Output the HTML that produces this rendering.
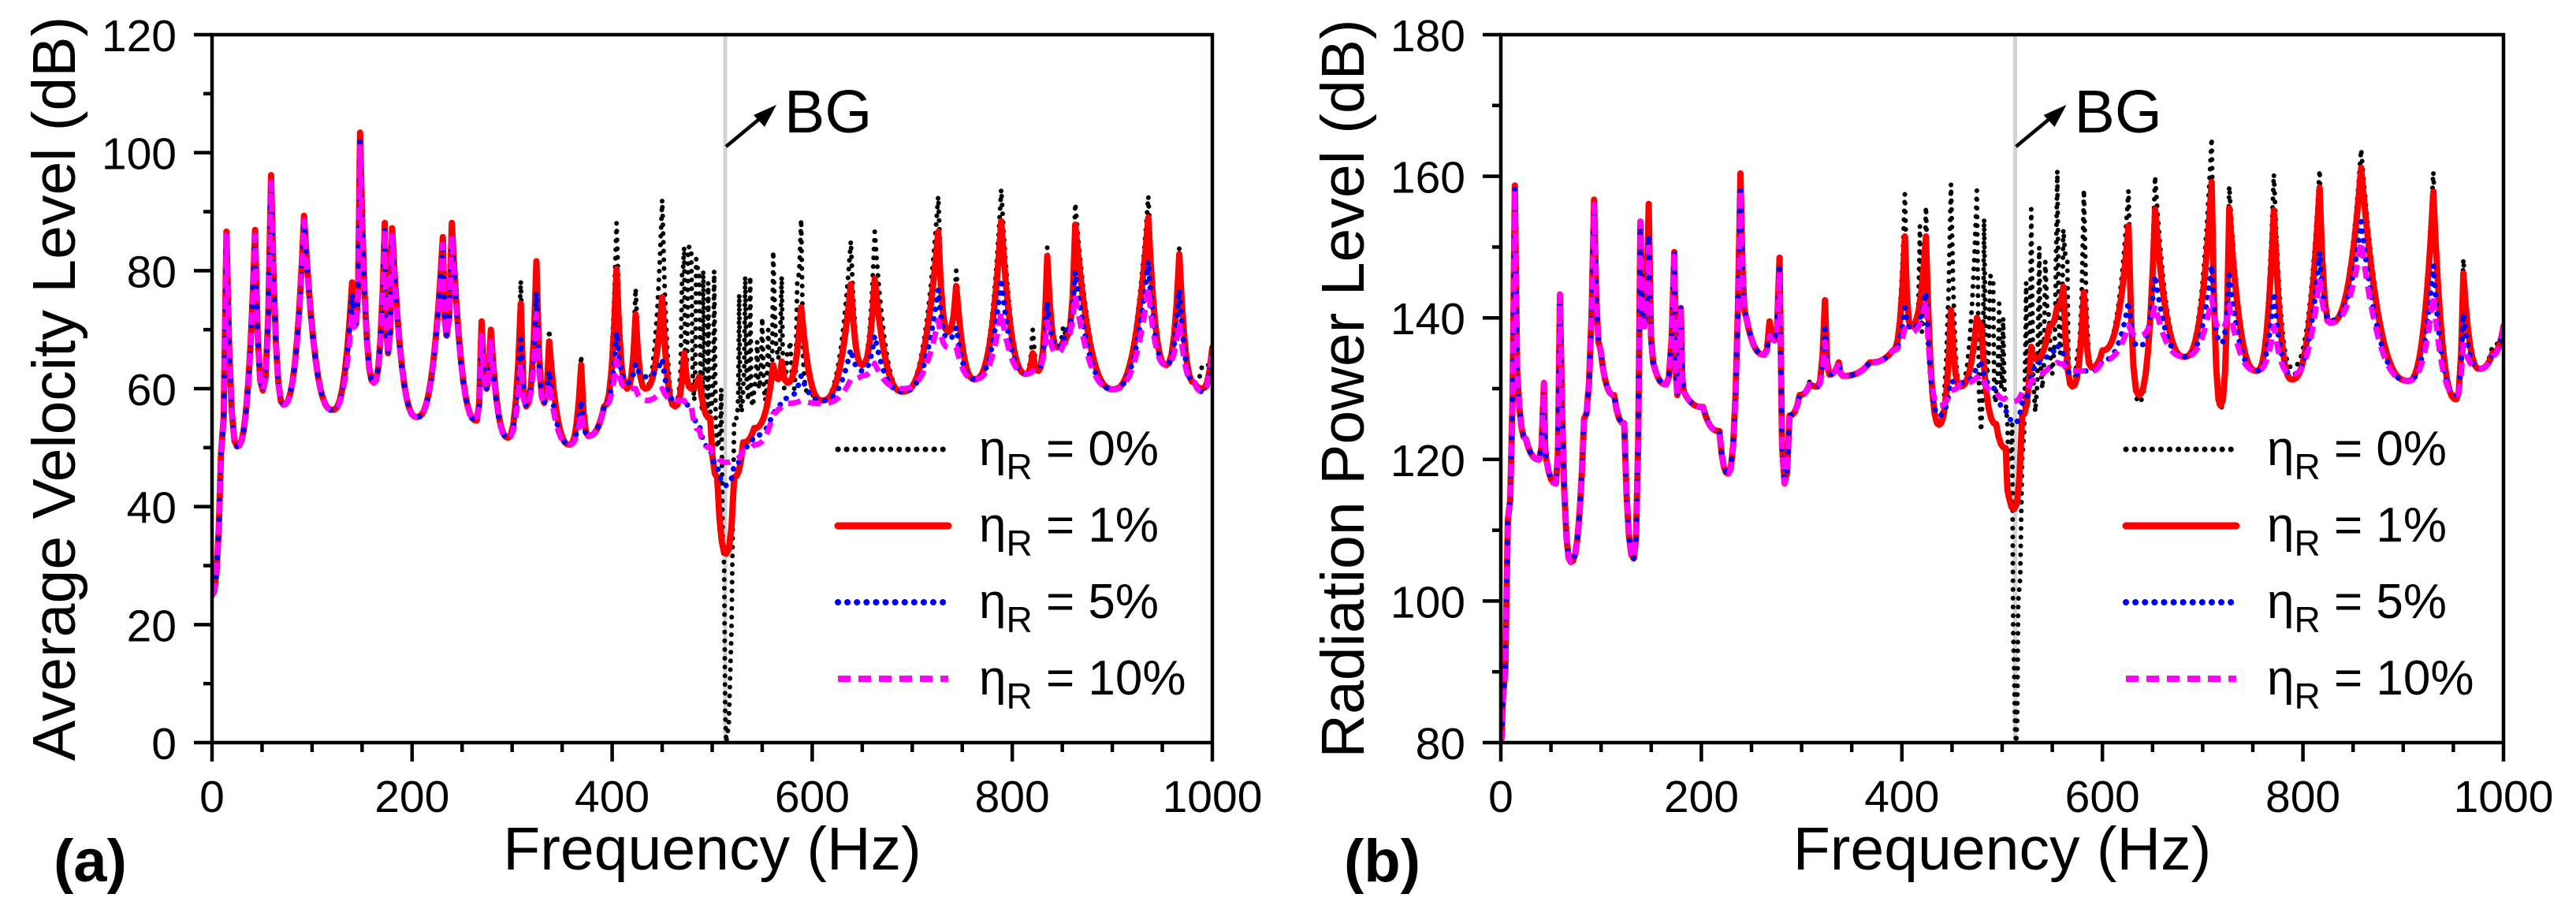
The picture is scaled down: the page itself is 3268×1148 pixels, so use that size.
<!DOCTYPE html>
<html><head><meta charset="utf-8">
<style>
html,body{margin:0;padding:0;background:#fff;}
svg{display:block;font-family:"Liberation Sans",Arial,sans-serif;}
</style></head>
<body>
<svg id="fig" width="3268" height="1148" viewBox="0 0 3268 1148" xmlns="http://www.w3.org/2000/svg">
<rect width="3268" height="1148" fill="#fff"/>
</svg>
<script>
// ---------- Panel (a): Average velocity level ----------
const freqA = [0,9,14.4,25,43,50.8,59,71.3,92,120.5,140,144,148,161.8,172.7,176,180,204.7,230.7,234.5,239.7,264.6,269.5,274.5,278.7,296,308.7,314,324.3,332,337,357.6,369,376,392,404.4,415,423.5,433,450,463,472,479,487,498,505,514,522,531,542,561,566,569.5,575,589,610,638.6,650,662.5,690.5,726,736,744,762.5,789,814,820.5,826,835,845,851,855,863,901,936,954,967,982,990,1000];
const levelA1 = [25,49,86.6,50.2,86.9,59.7,96.2,57.3,89.3,56.4,78,71,103.4,61,88.1,66,87.2,55.2,85.7,69,88.1,54.6,71.4,60,70,51.7,74.4,57,81.6,57.6,68,50.5,64,52,57,80.3,60,72.6,60,75.5,57,66,60,62,55,45,32,45,50.9,53.3,64,61.6,64.6,61,73.8,58,77.7,64,78.6,59.5,86.6,69.6,77.4,61.6,88.4,62.5,66,63,82.5,67,68,69,87.8,59.9,89,64,82.8,61,60,67];
const levelA0 = [25,49,86.6,50.2,86.9,59.7,96.2,57.3,89.3,56.4,78,71,103.4,61,88.1,66,87.2,55.2,85.7,69,88.1,54.6,71.4,60,70,51.7,78.3,57,81.6,57.6,70,50.5,65.6,52,57,88.1,60,77,60,92,57,84,84,80,56,50,0,55,60,60,83.3,65,79,66,88.7,58,85,64,86.6,59.5,92.6,69.6,80,61.6,93.8,62.5,70,63,84,67,70.5,69,91.4,59.9,92.6,64,84,61,64,64];
const levelA5 = [25,49,86,50.2,86,59.7,95,57.3,88.5,56.4,76,71,102,61,87,66,86,55.2,84.5,69,86,54.6,69,60,68,51.7,68.4,57,76.3,57.6,63,50.5,58,52,57,69.6,61,64.2,62,65,58,58,57,54,50,47,43.6,47,50,52,56,57,58,58.5,62.2,58,66.7,63,69,59.5,76.8,68.4,70.4,61.6,78.6,62.5,63,63.5,74.7,67,68.5,70,79.8,59.9,81.6,64,76.8,61,59.5,66];
const levelA10 = [25,49,86,50.2,86,59.7,95,57.3,88.5,56.4,73,70,101,61,87,66,86,55.2,84.5,69,86,54.6,69,60,68,51.7,64.2,57,72.7,57.6,61,50.5,56,52,57,64.8,60,60,58,60,58,58,57,53,50,48.5,47.5,48,49.5,50.5,55.8,56.5,57,57.5,58,57.5,61.6,62.2,64.3,60,71.6,67,67,61.6,73,62.5,63,63.5,71.3,66,67.5,69,75.9,59.9,77,64,71.3,61,59.5,66];
const burstFreqA0 = [467,470,474,476,482,484,490,491,495,496,500,502,507,509,512,525,527,529,533,536,538,540,545,547,550,553,556,559,572,578,582,585,593,600];
const burstLevelA0 = [60,80,62,84,58,82,56,80,55,78,58,80,52,60,30,55,76,56,79,58,79,57,68,60,72,58,70,60,60,68,60,78,60,59];
const yTicksA = [0,20,40,60,80,100,120];

// ---------- Panel (b): Radiation power level ----------
const freqB = [0,2,7,14,18.5,25,38.3,43,45.4,55,59,69.8,83,93,99.5,113,123,132.6,139.2,143,147.5,152,165,173,176,179.5,182.5,201.7,218,226.8,239,245,263,268,273,278,283,288,298,308,316,323.3,327.6,337,341,368,391,403,409,424,437,449,458,474.8,479,494,503.6,507,512,520,529,533,547,555,561,570,581.5,589,600,626,636,652.5,682,709,718,726.5,754,771,789,816.6,827,858,905,930,953,960,976,989,1000];
const levelB1 = [80,86,111.5,158.7,127.4,122.9,120,130.8,120,116.6,143.3,105.5,125.7,156.7,135.4,129.1,125.1,106,153.6,138.8,156.1,133.7,130.6,149.3,129.1,141.4,129.6,127.4,124,118,160.4,139.9,134.8,139.5,136.8,148.5,116.6,126.2,129.1,130.6,130.3,142.5,132,133.7,131.8,133.7,135.4,151.5,138.8,151.5,124.9,141.1,130.3,140,139,125,121.6,114.5,113,126.2,135.9,134.2,138.8,141.6,144.4,130.3,143.6,133,135.4,153,129.1,155.3,134.5,159.2,127.6,155.5,132.5,155.2,131.3,158.4,139.3,161.2,131.1,157.8,128.5,146.3,132.8,135,138.8];
const levelB0 = [80,86,111.5,158.7,127.4,122.9,120,130.8,120,116.6,143.3,105.5,125.7,156.7,135.4,129.1,125.1,106,153.6,138.8,156.1,133.7,130.6,149.3,129.1,141.4,129.6,127.4,124,118,160.4,139.9,134.8,139.5,136.8,148.5,116.6,126.2,129.1,131,130.3,142.5,132,133.7,131.8,133.7,135.4,157.5,138.8,155.7,124.9,158.9,130.3,158,124,130,128,120,90,120,155.4,126.7,140,160.8,152.5,130,158.1,133,135.4,158,128,160,134.5,165.4,127,158.6,132.5,160.3,133,160.9,139.3,163.8,131.1,160.6,128.5,148.3,132.8,136,138.8];
const levelB5 = [80,86,111.5,158.3,127.4,122.9,120,130.8,120,116.6,143.3,105.5,125.7,156,135.4,129.1,125.1,106,153.6,138.8,151.5,133.7,130.6,149.3,129.1,141.4,129.6,127.4,124,118,158.5,139.9,134.8,138,136.8,147,116.6,126.2,129.1,130.6,130.3,138.4,132,133.7,131.8,133.7,135.4,141.4,138.5,143.6,126.2,131.1,130.8,133,133.5,130,127,126,125.1,128,132,133.6,135,136.2,135,132,132.5,132.5,134,142.3,135.9,146,134.5,147.4,136.4,146,132.5,143.6,132,149.3,139.6,153.6,131.1,147.4,129.1,140.6,132.8,134.7,138.8];
const levelB10 = [80,86,111.5,158,127.4,122.9,120,130.8,120,116.6,143.3,105.5,125.7,156,135.4,129.1,125.1,106,153.6,138.8,150,133.7,130.6,149.3,129.1,141.4,129.6,127.4,124,118,158,139.9,134.8,137.5,136.8,146.5,116.6,126.2,129.1,130.6,130.3,136.6,132,133.7,131.8,133.7,135.4,138.5,138,142.5,127.6,129.8,130.6,131.6,132,129.5,128.5,128.3,128.2,129.5,131,132,133,133.7,133.5,132.5,132.5,132.5,134,139,137.4,141.8,134.5,142.9,138.4,141.8,132.5,138.8,132,145.6,139.3,150.8,131.1,143.2,129.1,136.2,132.8,134.7,138.8];
const burstFreqB0 = [415,418,420,482,485,488,491,493,497,499,501,505,510,514,516,524,526,537,540,543,550,558,565,567,575];
const burstLevelB0 = [140,153,138,154,132,146,145.6,128,142,130,140,126,125,80,100,145,128,150,130,148,132,135,148,132,135];
const yTicksB = [80,100,120,140,160,180];
const xTicks = [0,200,400,600,800,1000];
const legendLabels = ["0%","1%","5%","10%"];

const NS = "http://www.w3.org/2000/svg";
const svg = document.getElementById('fig');
function mk(tag, attrs, parent){
  const e = document.createElementNS(NS, tag);
  for (const k in attrs) e.setAttribute(k, attrs[k]);
  (parent||svg).appendChild(e);
  return e;
}
const styles = [
  {color:'#000000', w:6, dash:'0.1 11', cap:'round', name:'eta-0'},
  {color:'#ff0000', w:8, dash:'', cap:'round', name:'eta-1'},
  {color:'#0000ff', w:7, dash:'0.1 12', cap:'round', name:'eta-5'},
  {color:'#ff00ff', w:7, dash:'16 10', cap:'butt', name:'eta-10'}
];

function merge(f, v, bf, bv){
  const pts = f.map((x,i)=>[x, v[i]]);
  if (bf) bf.forEach((x,i)=>pts.push([x, bv[i]]));
  pts.sort((a,b)=>a[0]-b[0]);
  return pts;
}
function pathFrom(pts, sx, sy){
  let d = `M${sx(pts[0][0]).toFixed(1)},${sy(pts[0][1]).toFixed(1)}`;
  for (let i=1;i<pts.length;i++){
    const [fa,va] = pts[i-1], [fb,vb] = pts[i];
    const n = Math.max(2, Math.round((sx(fb)-sx(fa))/3));
    for (let k=1;k<=n;k++){
      const t = k/n;
      let v;
      if (vb>=va) v = va + (vb-va)*Math.pow(t,2.6);
      else v = vb + (va-vb)*Math.pow(1-t,2.6);
      d += `L${sx(fa+(fb-fa)*t).toFixed(1)},${sy(v).toFixed(1)}`;
    }
  }
  return d;
}

function panel(opt){
  const g = mk('g', {});
  
  
  const L=opt.x0, R=opt.x1, T=44, B=942;
  const sx = f => L + (f/1000)*(R-L);
  const sy = v => B - (v-opt.ymin)/(opt.ymax-opt.ymin)*(B-T);
  const clip = mk('clipPath', {id:'clip-'+opt.name}, g);
  mk('rect', {x:L, y:T, width:R-L, height:B-T}, clip);
  const bgx = sx(513);
  const bgl = mk('line', {x1:bgx, y1:T+2, x2:bgx, y2:B, stroke:'#d3d3d3', 'stroke-width':5}, g);
  
  
  opt.series.forEach((s,i)=>{
    const st = styles[i];
    const pts = merge(s.f, s.v, s.bf, s.bv);
    const p = mk('path', {d:pathFrom(pts,sx,sy), fill:'none', stroke:st.color, 'stroke-width':st.w,
      'stroke-dasharray':st.dash, 'stroke-linecap':st.cap, 'stroke-linejoin':'round', 'clip-path':`url(#clip-${opt.name})`}, g);
    
    
  });
  const fr = mk('rect', {x:L, y:T, width:R-L, height:B-T, fill:'none', stroke:'#000', 'stroke-width':4.5}, g);
  
  
  for (let f=0; f<=1000; f+=50){
    const major = f%200===0;
    mk('line', {x1:sx(f), y1:B, x2:sx(f), y2:B+(major?24:12), stroke:'#000', 'stroke-width':4.5}, g);
  }
  xTicks.forEach(t=>{
    const tx = mk('text', {x:sx(t), y:1030, 'font-size':57, 'text-anchor':'middle'}, g);
    tx.textContent = t;
    
    
  });
  for (let v=opt.ymin; v<=opt.ymax; v+=10){
    const major = (v-opt.ymin)%20===0;
    mk('line', {x1:L, y1:sy(v), x2:L-(major?23:11), y2:sy(v), stroke:'#000', 'stroke-width':4.5}, g);
  }
  opt.yTicks.forEach(t=>{
    const ty = mk('text', {x:L-45, y:sy(t)+21, 'font-size':57, 'text-anchor':'end'}, g);
    ty.textContent = t;
    
    
  });
  const xt = mk('text', {x:(L+R)/2, y:1103, 'font-size':77, 'text-anchor':'middle'}, g);
  xt.textContent = 'Frequency (Hz)';
  
  
  const yt = mk('text', {x:0, y:0, 'font-size':77, 'text-anchor':'middle', transform:`translate(${opt.ytx},${(T+B)/2}) rotate(-90)`}, g);
  yt.textContent = opt.ytitle;
  
  
  const pl = mk('text', {x:opt.labx, y:1118, 'font-size':76, 'font-weight':'bold'}, g);
  pl.textContent = opt.label;
  
  
  const ar = mk('line', {x1:bgx+1, y1:186, x2:bgx+54, y2:142, stroke:'#000', 'stroke-width':4.5}, g);
  
  
  const ah = mk('polygon', {points:`${bgx+65},${133} ${bgx+36},${146} ${bgx+50},${161}`, fill:'#000'}, g);
  
  
  const bt = mk('text', {x:bgx+75, y:168, 'font-size':77}, g);
  bt.textContent = 'BG';
  
  
  const lg = mk('g', {}, g);
  
  
  const ly = [570, 667, 764, 861];
  legendLabels.forEach((lab,i)=>{
    const st = styles[i];
    const y = ly[i];
    const ln = mk('line', {x1:opt.legx, y1:y, x2:opt.legx+140, y2:y, stroke:st.color, 'stroke-width':st.w+1,
      'stroke-dasharray':st.dash, 'stroke-linecap':st.cap}, lg);
    
    
    const t = mk('text', {x:opt.legx+179, y:y+20, 'font-size':62}, lg);
    
    
    const s1 = mk('tspan', {}, t); s1.textContent = 'η';
    const s2 = mk('tspan', {'font-size':46, dy:18}, t); s2.textContent = 'R';
    const s3 = mk('tspan', {dy:-18}, t); s3.textContent = ' = ' + lab;
  });
}

panel({name:'panel-a', x0:269, x1:1538, ymin:0, ymax:120, yTicks:yTicksA,
  ytitle:'Average Velocity Level (dB)', ytx:95, label:'(a)', labx:68, legx:1063,
  series:[
    {f:freqA, v:levelA0, bf:burstFreqA0, bv:burstLevelA0},
    {f:freqA, v:levelA1},
    {f:freqA, v:levelA5},
    {f:freqA, v:levelA10}
  ]});
panel({name:'panel-b', x0:1904, x1:3176, ymin:80, ymax:180, yTicks:yTicksB,
  ytitle:'Radiation Power Level (dB)', ytx:1730, label:'(b)', labx:1705, legx:2697,
  series:[
    {f:freqB, v:levelB0, bf:burstFreqB0, bv:burstLevelB0},
    {f:freqB, v:levelB1},
    {f:freqB, v:levelB5},
    {f:freqB, v:levelB10}
  ]});
</script>
</body></html>
